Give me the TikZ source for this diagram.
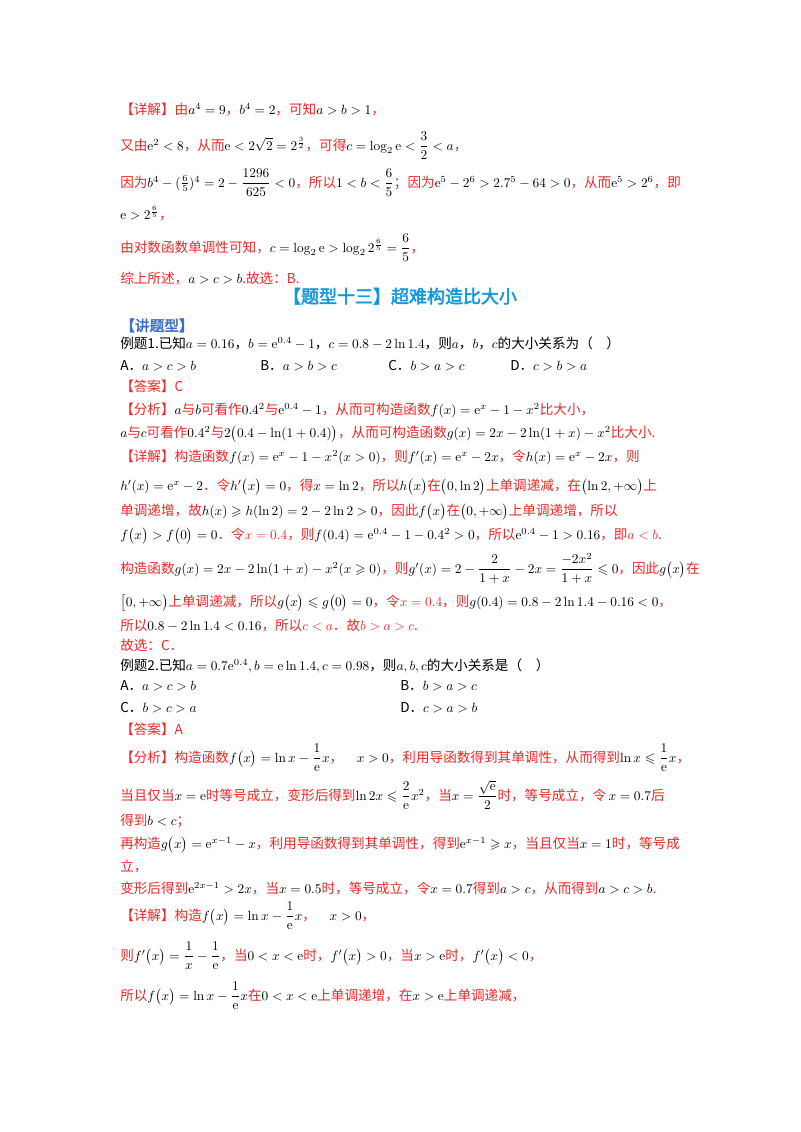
\documentclass[tikz,border=0pt]{standalone}
\usepackage{amsmath,amssymb}
\usepackage[no-math]{fontspec}
\setmainfont{Noto Sans CJK SC}[AutoFakeBold=2.5]
\definecolor{myred}{RGB}{235,40,40}
\definecolor{myblue}{RGB}{20,150,220}
\definecolor{hblue}{RGB}{60,110,200}
\newcommand{\R}[1]{\textcolor{myred}{#1}}
\newcommand{\E}{\mathrm{e}}
\tikzset{ln/.style={anchor=base west,inner sep=0pt,font=\fontsize{10.2}{12}\selectfont}}
\begin{document}
\begin{tikzpicture}[x=0.75pt,y=-0.75pt]
\useasboundingbox (0,0) rectangle (800,1132);
\node[ln] (l1) at (120,114) {\R{【详解】由}$a^4=9$\R{，}$b^4=2$\R{，可知}$a>b>1$\R{，}};
\node[ln] (l2) at (120,150) {\R{又由}$\E^2<8$\R{，从而}$\E<2\sqrt2=2^{\frac32}$\R{，可得}$c=\log_2\E<\dfrac32<a$\R{，}};
\node[ln] (l3) at (120,187) {\R{因为}$b^4-(\frac65)^4=2-\dfrac{1296}{625}<0$\R{，所以}$1<b<\dfrac65$\R{；因为}$\E^5-2^6>2.7^5-64>0$\R{，从而}$\E^5>2^6$\R{，即}};
\node[ln] (l4) at (120,219) {$\E>2^{\frac65}$\R{，}};
\node[ln] (l5) at (120,252) {\R{由对数函数单调性可知，}$c=\log_2\E>\log_2 2^{\frac65}=\dfrac65$\R{，}};
\node[ln] (l6) at (120,283) {\R{综上所述，}$a>c>b$\R{.故选：B.}};
\node[anchor=base,inner sep=0pt,font=\fontsize{13.5}{15}\selectfont\bfseries,text=myblue] (t) at (400,303) {【题型十三】超难构造比大小};
\node[ln,font=\fontsize{11}{12}\selectfont\bfseries,text=hblue] (h) at (120,331) {【讲题型】};
\node[ln] (q1) at (120,348) {例题1.已知$a=0.16$，$b=\E^{0.4}-1$，$c=0.8-2\ln1.4$，则$a$，$b$，$c$的大小关系为（\quad）};
\node[ln] (qa) at (120,370) {A．$a>c>b$};
\node[ln] (qb) at (260,370) {B．$a>b>c$};
\node[ln] (qc) at (388,370) {C．$b>a>c$};
\node[ln] (qd) at (510,370) {D．$c>b>a$};
\node[ln] (an1) at (120,391) {\R{【答案】C}};
\node[ln] (fx1) at (120,414) {\R{【分析】}$a$\R{与}$b$\R{可看作}$0.4^2$\R{与}$\E^{0.4}-1$\R{，从而可构造函数}$f(x)=\E^x-1-x^2$\R{比大小，}};
\node[ln] (fx2) at (120,437) {$a$\R{与}$c$\R{可看作}$0.4^2$\R{与}$2\bigl(0.4-\ln(1+0.4)\bigr)$\R{，从而可构造函数}$g(x)=2x-2\ln(1+x)-x^2$\R{比大小.}};
\node[ln] (d1) at (120,461) {\R{【详解】构造函数}$f(x)=\E^x-1-x^2(x>0)$\R{，则}$f'(x)=\E^x-2x$\R{，令}$h(x)=\E^x-2x$\R{，则}};
\node[ln] (d2) at (120,490) {$h'(x)=\E^x-2$\R{．令}$h'\bigl(x\bigr)=0$\R{，得}$x=\ln2$\R{，所以}$h\bigl(x\bigr)$\R{在}$\bigl(0,\ln2\bigr)$\R{上单调递减，在}$\bigl(\ln2,+\infty\bigr)$\R{上}};
\node[ln] (d3) at (120,515) {\R{单调递增，故}$h(x)\geqslant h(\ln2)=2-2\ln2>0$\R{，因此}$f\bigl(x\bigr)$\R{在}$\bigl(0,+\infty\bigr)$\R{上单调递增，所以}};
\node[ln] (d4) at (120,539) {$f\bigl(x\bigr)>f\bigl(0\bigr)=0$\R{．令}\R{$x=0.4$}\R{，则}$f(0.4)=\E^{0.4}-1-0.4^2>0$\R{，所以}$\E^{0.4}-1>0.16$\R{，即}\R{$a<b$.}};
\node[ln] (d5) at (120,573) {\R{构造函数}$g(x)=2x-2\ln(1+x)-x^2(x\geqslant0)$\R{，则}$g'(x)=2-\dfrac{2}{1+x}-2x=\dfrac{-2x^2}{1+x}\leqslant0$\R{，因此}$g\bigl(x\bigr)$\R{在}};
\node[ln] (d6) at (120,606) {$\bigl[0,+\infty\bigr)$\R{上单调递减，所以}$g\bigl(x\bigr)\leqslant g\bigl(0\bigr)=0$\R{，令}\R{$x=0.4$}\R{，则}$g(0.4)=0.8-2\ln1.4-0.16<0$\R{，}};
\node[ln] (d7) at (120,630) {\R{所以}$0.8-2\ln1.4<0.16$\R{，所以}\R{$c<a$．故}\R{$b>a>c$.}};
\node[ln] (d8) at (120,650) {\R{故选：C．}};
\node[ln] (q2) at (120,670) {例题2.已知$a=0.7\E^{0.4},b=\E\ln1.4,c=0.98$，则$a,b,c$的大小关系是（\quad）};
\node[ln] (q2a) at (120,690) {A．$a>c>b$};
\node[ln] (q2b) at (400,690) {B．$b>a>c$};
\node[ln] (q2c) at (120,712) {C．$b>c>a$};
\node[ln] (q2d) at (400,712) {D．$c>a>b$};
\node[ln] (an2) at (120,734) {\R{【答案】A}};
\node[ln] (e1) at (120,762) {\R{【分析】构造函数}$f\bigl(x\bigr)=\ln x-\dfrac1{\E}x$\R{，}\quad$x>0$\R{，利用导函数得到其单调性，从而得到}$\ln x\leqslant\dfrac1{\E}x$\R{，}};
\node[ln] (e2) at (120,800) {\R{当且仅当}$x=\E$\R{时等号成立，变形后得到}$\ln2x\leqslant\dfrac2{\E}x^2$\R{，当}$x=\dfrac{\sqrt{\E}}2$\R{时，等号成立，令}\,$x=0.7$\R{后}};
\node[ln] (e3) at (120,825) {\R{得到}$b<c$\R{；}};
\node[ln] (e4) at (120,848) {\R{再构造}$g\bigl(x\bigr)=\E^{x-1}-x$\R{，利用导函数得到其单调性，得到}$\E^{x-1}\geqslant x$\R{，当且仅当}$x=1$\R{时，等号成}};
\node[ln] (e5) at (120,871) {\R{立，}};
\node[ln] (e6) at (120,893) {\R{变形后得到}$\E^{2x-1}>2x$\R{，当}$x=0.5$\R{时，等号成立，令}$x=0.7$\R{得到}$a>c$\R{，从而得到}$a>c>b$\R{.}};
\node[ln] (g1) at (120,920) {\R{【详解】构造}$f\bigl(x\bigr)=\ln x-\dfrac1{\E}x$\R{，}\quad$x>0$\R{，}};
\node[ln] (g2) at (120,960) {\R{则}$f'\bigl(x\bigr)=\dfrac1x-\dfrac1{\E}$\R{，当}$0<x<\E$\R{时，}$f'\bigl(x\bigr)>0$\R{，当}$x>\E$\R{时，}$f'\bigl(x\bigr)<0$\R{，}};
\node[ln] (g3) at (120,1000) {\R{所以}$f\bigl(x\bigr)=\ln x-\dfrac1{\E}x$\R{在}$0<x<\E$\R{上单调递增，在}$x>\E$\R{上单调递减，}};
\end{tikzpicture}
\end{document}
